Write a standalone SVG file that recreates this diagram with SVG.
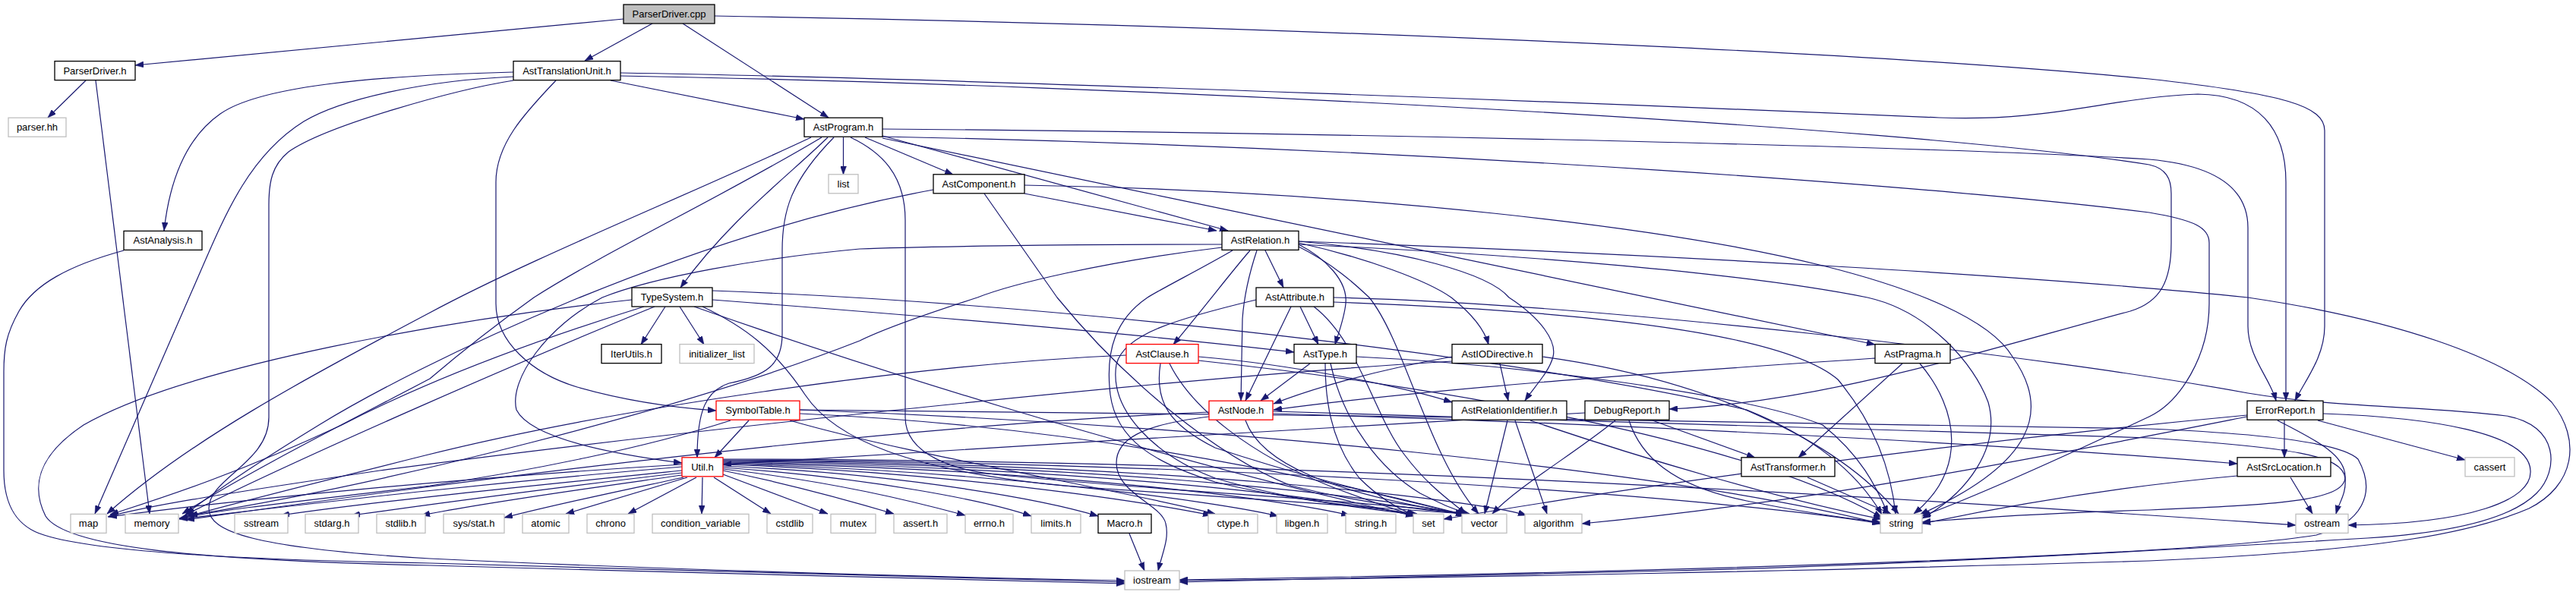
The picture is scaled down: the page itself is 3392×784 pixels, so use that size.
<svg xmlns="http://www.w3.org/2000/svg" width="3392" height="784" viewBox="0 0 3392 784">
<style>
.node rect{fill:#fff;stroke:#000;stroke-width:1.3}
.ext rect{stroke:#bfbfbf}
.red rect{stroke:#ff0000}
.cur rect{fill:#bfbfbf}
text{font-family:"Liberation Sans",Arial,Helvetica,sans-serif;font-size:13px;text-anchor:middle;fill:#000}
#edges path{fill:none;stroke:#191970;stroke-width:1.2;marker-end:url(#arr)}
</style>
<defs>
<marker id="arr" viewBox="0 0 11 8" refX="11" refY="4" markerWidth="11" markerHeight="8" orient="auto" markerUnits="userSpaceOnUse">
<path d="M0,0 L11,4 L0,8 z" fill="#191970" stroke="#191970" stroke-width="0.5"/>
</marker>
</defs>
<rect width="3392" height="784" fill="#fff"/>
<g id="edges">
<path d="M821,25 L178,86"/>
<path d="M859,31 L770,80"/>
<path d="M899,31 L1091,155"/>
<path d="M941,21 C1500,30 2400,62 2830,104 C3010,124 3061,140 3061,172 L3061,430 C3061,470 3035,502 3022,528"/>
<path d="M113,106 L63,155"/>
<path d="M126,106 L197,677"/>
<path d="M676,95 C480,100 340,115 290,150 C240,185 222,250 216,304"/>
<path d="M676,101 C560,106 450,130 400,160 C320,210 290,300 249,392 L125,677"/>
<path d="M676,106 C600,118 430,165 380,200 C358,218 354,240 354,270 L354,550 C354,610 275,630 275,670 C275,700 330,722 566,736 C900,752 1300,762 1481,765"/>
<path d="M163,330 C90,350 45,375 25,410 C8,440 5,460 5,490 L5,620 C5,670 25,695 58,705 C130,728 330,738 566,742 C900,752 1300,762 1481,767"/>
<path d="M832,395 C600,420 250,480 110,560 C50,600 40,640 60,680 C85,720 250,738 566,745 C900,755 1300,763 1481,769"/>
<path d="M732,106 C690,150 653,190 653,240 L653,400 C653,450 700,492 760,510 C830,530 900,538 943,541"/>
<path d="M804,106 L1059,157"/>
<path d="M817,96 C1300,104 2200,140 2553,155 C2700,161 2780,128 2894,124 C2975,125 3010,170 3010,240 L3010,528"/>
<path d="M817,100 C1500,112 2500,165 2830,217 C2852,222 2859,235 2859,255 L2859,320 C2859,370 2845,398 2805,410 C2600,465 2400,530 2198,539"/>
<path d="M1110.5,181 L1110.5,230"/>
<path d="M1139,181 L1255,230"/>
<path d="M1162,179 L1617,304"/>
<path d="M1162,182 L2469,454"/>
<path d="M1162,170 C1800,175 2600,195 2830,210 C2920,218 2960,250 2960,300 L2960,430 C2960,470 2990,500 2997,528"/>
<path d="M1162,180 C1900,195 2600,250 2830,280 C2890,290 2909,300 2909,320 L2909,400 C2909,470 2870,530 2830,549 C2700,610 2600,655 2531,680"/>
<path d="M1068,181 C900,260 700,340 566,412 C400,500 250,580 141,677"/>
<path d="M1082,181 C950,260 800,330 703,392 C650,430 600,470 566,499 C450,560 330,620 240,677"/>
<path d="M1090,181 C1040,230 960,290 896,379"/>
<path d="M1098,181 C1040,240 1030,280 1030,330 L1030,440 C1030,480 1010,495 960,505 C930,515 918,540 918,603"/>
<path d="M1120,181 C1160,200 1192,230 1192,290 L1192,550 C1192,600 1260,620 1310,625 C1500,645 1800,660 1935,677"/>
<path d="M1349,255 L1602,304"/>
<path d="M1229,250 C900,310 550,480 420,560 C330,615 280,650 245,677"/>
<path d="M1349,244 C1800,252 2200,300 2400,350 C2520,380 2620,420 2650,470 C2700,540 2680,610 2528,678"/>
<path d="M1296,255 L1392,392 C1480,500 1600,600 1700,640 C1800,665 1880,672 1930,677"/>
<path d="M1666,330 L1690,379"/>
<path d="M1646,330 C1620,360 1590,400 1545,454"/>
<path d="M1655,330 C1645,360 1638,392 1636,420 L1634,528"/>
<path d="M1710,322 C1745,340 1775,370 1772,400 C1770,420 1762,440 1758,454"/>
<path d="M1710,320 C1800,340 1880,370 1911,392 C1940,415 1955,435 1960,454"/>
<path d="M1710,318 C1850,330 1960,360 1987,392 C2030,420 2050,450 2045,470 C2040,490 2020,510 2008,528"/>
<path d="M1710,325 C1760,350 1790,380 1803,392 C1850,450 1880,600 1947,677"/>
<path d="M1623,330 C1580,355 1530,380 1511,392 C1470,420 1455,460 1462,520 C1470,580 1520,610 1600,635 C1700,660 1800,668 1866,677"/>
<path d="M1710,322 C2000,335 2300,360 2459,392 C2540,410 2600,480 2618,530 C2635,590 2590,650 2531,683"/>
<path d="M1710,318 C2200,335 2700,365 2960,392 C3150,420 3300,470 3360,530 C3400,580 3390,640 3330,670 C3260,700 3150,725 2830,739 C2400,752 1900,762 1553,765"/>
<path d="M1609,322 C1400,322 1200,325 1132,328 C1000,340 860,365 793,392 C720,430 670,500 680,540 C700,580 820,600 898,610"/>
<path d="M1609,326 C1450,345 1330,375 1287,392 C1200,420 1150,440 1132,449 C900,540 500,640 249,679"/>
<path d="M1700,404 L1640,528"/>
<path d="M1712,404 L1736,454"/>
<path d="M1654,395 C1550,420 1480,440 1470,480 C1460,540 1520,600 1600,630 C1700,660 1800,670 1864,678"/>
<path d="M1730,404 C1790,450 1810,550 1850,600 C1880,640 1910,660 1930,677"/>
<path d="M1756,398 C2100,410 2350,440 2420,500 C2470,560 2490,620 2496,677"/>
<path d="M1756,392 C2100,400 2700,470 2960,518 C3080,538 3200,535 3300,548 C3370,560 3370,620 3340,650 C3300,690 3200,705 3100,710 C2900,722 2500,745 2200,752 C1900,760 1700,763 1553,767"/>
<path d="M1725,479 L1660,528"/>
<path d="M1745,479 C1745,520 1750,580 1790,630 C1820,660 1845,672 1863,679"/>
<path d="M1752,479 C1770,560 1820,620 1870,650 C1900,665 1915,672 1935,677"/>
<path d="M1786,470 C2000,480 2300,520 2400,560 C2450,600 2470,640 2486,677"/>
<path d="M938,395 C1200,415 1500,440 1704,464"/>
<path d="M876,404 L844,454"/>
<path d="M895,404 L927,454"/>
<path d="M862,404 C700,470 400,600 243,679"/>
<path d="M848,404 C700,450 566,500 450,560 C300,630 200,660 145,678"/>
<path d="M914,404 C1100,470 1500,600 1862,680"/>
<path d="M925,404 C980,430 1020,460 1060,520 C1100,580 1200,620 1400,640 C1600,655 1800,668 1928,677"/>
<path d="M938,383 C1400,400 2000,470 2300,540 C2400,580 2450,630 2478,678"/>
<path d="M1912,470 C1800,490 1720,515 1677,532"/>
<path d="M2469,472 C2200,490 1900,510 1677,540"/>
<path d="M1975,479 L1986,528"/>
<path d="M1912,476 C1500,500 800,580 500,620 C300,650 200,665 142,681"/>
<path d="M2031,470 C2250,500 2420,580 2500,677"/>
<path d="M1578,470 C1700,480 1850,510 1912,530"/>
<path d="M1483,468 C1200,480 800,540 560,600 C400,640 300,665 245,681"/>
<path d="M1528,479 C1520,530 1540,560 1600,590 C1750,640 1880,665 1928,679"/>
<path d="M1540,479 C1570,540 1650,600 1750,640 C1800,660 1840,672 1864,680"/>
<path d="M1578,475 C1900,510 2300,580 2478,682"/>
<path d="M1985,554 L1955,677"/>
<path d="M1995,554 L2037,677"/>
<path d="M2015,554 C2150,600 2350,660 2478,684"/>
<path d="M2176,554 L2311,603"/>
<path d="M2127,554 C2070,600 2000,640 1965,677"/>
<path d="M2145,554 C2160,600 2200,640 2300,660 C2400,680 2450,685 2476,688"/>
<path d="M2087,544 C1800,560 1300,590 952,612"/>
<path d="M2505,479 L2368,603"/>
<path d="M2528,479 C2580,540 2590,620 2520,677"/>
<path d="M2380,629 L2490,677"/>
<path d="M3008,554 L3008,603"/>
<path d="M3052,554 L3246,606"/>
<path d="M3059,545 C3200,550 3330,570 3332,620 C3335,660 3250,690 3092,692"/>
<path d="M2999,554 C3050,580 3090,600 3088,630 C3085,660 3000,665 2830,672 C2700,676 2600,682 2531,688"/>
<path d="M1676,542 C2200,555 2700,570 2830,577 C3020,590 3085,600 3088,630 C3090,650 3080,662 3076,677"/>
<path d="M3016,629 L3045,677"/>
<path d="M2946,627 C2800,640 2650,665 2531,690"/>
<path d="M2959,549 C2700,600 2400,660 2083,690"/>
<path d="M2959,547 C2500,590 2100,650 1901,684"/>
<path d="M1053,540 C1600,545 2400,555 2830,565 C2950,570 3080,580 3105,605 C3130,650 3110,690 3050,705 C2900,730 2300,752 1553,764"/>
<path d="M986,554 L941,603"/>
<path d="M962,554 C850,590 700,620 566,640 C400,660 300,670 236,683"/>
<path d="M1053,545 C1400,560 1700,620 1928,678"/>
<path d="M1053,540 C1600,560 2200,620 2476,690"/>
<path d="M1040,554 C1200,600 1450,640 1600,677"/>
<path d="M1676,545 C2200,560 2700,590 2946,611"/>
<path d="M1592,543 C1200,560 700,620 245,685"/>
<path d="M1640,554 C1660,610 1750,650 1932,678"/>
<path d="M1592,549 C1500,560 1470,580 1470,610 C1470,650 1530,665 1535,690 C1540,710 1530,730 1525,752"/>
<path d="M1487,703 L1507,752"/>
<path d="M898,612 C600,630 300,660 143,681"/>
<path d="M898,615 C600,640 400,665 236,684"/>
<path d="M898,620 C700,640 500,660 370,679"/>
<path d="M898,623 C750,640 600,660 463,679"/>
<path d="M898,626 C800,640 650,660 555,679"/>
<path d="M900,629 C850,640 750,660 664,682"/>
<path d="M905,629 L745,677"/>
<path d="M917,629 L827,677"/>
<path d="M925,629 L924,677"/>
<path d="M940,629 L1015,677"/>
<path d="M952,625 L1090,677"/>
<path d="M952,620 C1050,640 1120,660 1177,677"/>
<path d="M952,618 C1100,635 1200,660 1271,679"/>
<path d="M952,616 C1150,630 1300,660 1358,680"/>
<path d="M952,614 C1200,625 1380,660 1446,680"/>
<path d="M952,612 C1250,622 1500,660 1595,679"/>
<path d="M952,611 C1300,620 1600,660 1683,680"/>
<path d="M952,610 C1400,618 1700,660 1777,679"/>
<path d="M952,609 C1450,615 1780,660 1863,679"/>
<path d="M952,608 C1500,612 1850,660 1930,679"/>
<path d="M952,607 C1550,610 1950,660 2010,679"/>
<path d="M952,606 C1700,610 2300,660 2476,690"/>
<path d="M952,605 C1800,605 2700,670 3023,692"/>
</g>
<g id="n_ParserDriver_cpp" class="node cur"><rect x="821" y="6" width="120" height="25"/><text x="881" y="23">ParserDriver.cpp</text></g>
<g id="n_ParserDriver_h" class="node"><rect x="72" y="80.6" width="106" height="25"/><text x="125" y="97.6">ParserDriver.h</text></g>
<g id="n_AstTranslationUnit_h" class="node"><rect x="676" y="80.6" width="141" height="25"/><text x="746.5" y="97.6">AstTranslationUnit.h</text></g>
<g id="n_parser_hh" class="node ext"><rect x="11" y="155.2" width="76" height="25"/><text x="49" y="172.2">parser.hh</text></g>
<g id="n_AstProgram_h" class="node"><rect x="1059" y="155.2" width="103" height="25"/><text x="1110.5" y="172.2">AstProgram.h</text></g>
<g id="n_list" class="node ext"><rect x="1091" y="229.8" width="39" height="25"/><text x="1110.5" y="246.8">list</text></g>
<g id="n_AstComponent_h" class="node"><rect x="1229" y="229.8" width="120" height="25"/><text x="1289" y="246.8">AstComponent.h</text></g>
<g id="n_AstAnalysis_h" class="node"><rect x="163" y="304.4" width="103" height="25"/><text x="214.5" y="321.4">AstAnalysis.h</text></g>
<g id="n_AstRelation_h" class="node"><rect x="1609" y="304.4" width="101" height="25"/><text x="1659.5" y="321.4">AstRelation.h</text></g>
<g id="n_TypeSystem_h" class="node"><rect x="832" y="379" width="106" height="25"/><text x="885" y="396">TypeSystem.h</text></g>
<g id="n_AstAttribute_h" class="node"><rect x="1654" y="379" width="102" height="25"/><text x="1705" y="396">AstAttribute.h</text></g>
<g id="n_IterUtils_h" class="node"><rect x="792" y="453.6" width="79" height="25"/><text x="831.5" y="470.6">IterUtils.h</text></g>
<g id="n_initializer_list" class="node ext"><rect x="895" y="453.6" width="98" height="25"/><text x="944" y="470.6">initializer_list</text></g>
<g id="n_AstClause_h" class="node red"><rect x="1483" y="453.6" width="95" height="25"/><text x="1530.5" y="470.6">AstClause.h</text></g>
<g id="n_AstType_h" class="node"><rect x="1704" y="453.6" width="82" height="25"/><text x="1745" y="470.6">AstType.h</text></g>
<g id="n_AstIODirective_h" class="node"><rect x="1912" y="453.6" width="119" height="25"/><text x="1971.5" y="470.6">AstIODirective.h</text></g>
<g id="n_AstPragma_h" class="node"><rect x="2469" y="453.6" width="99" height="25"/><text x="2518.5" y="470.6">AstPragma.h</text></g>
<g id="n_SymbolTable_h" class="node red"><rect x="943" y="528.2" width="110" height="25"/><text x="998" y="545.2">SymbolTable.h</text></g>
<g id="n_AstNode_h" class="node red"><rect x="1592" y="528.2" width="84" height="25"/><text x="1634" y="545.2">AstNode.h</text></g>
<g id="n_AstRelationIdentifier_h" class="node"><rect x="1912" y="528.2" width="151" height="25"/><text x="1987.5" y="545.2">AstRelationIdentifier.h</text></g>
<g id="n_DebugReport_h" class="node"><rect x="2087" y="528.2" width="111" height="25"/><text x="2142.5" y="545.2">DebugReport.h</text></g>
<g id="n_ErrorReport_h" class="node"><rect x="2959" y="528.2" width="100" height="25"/><text x="3009" y="545.2">ErrorReport.h</text></g>
<g id="n_Util_h" class="node red"><rect x="898" y="602.8" width="54" height="25"/><text x="925" y="619.8">Util.h</text></g>
<g id="n_AstTransformer_h" class="node"><rect x="2293" y="602.8" width="123" height="25"/><text x="2354.5" y="619.8">AstTransformer.h</text></g>
<g id="n_AstSrcLocation_h" class="node"><rect x="2946" y="602.8" width="123" height="25"/><text x="3007.5" y="619.8">AstSrcLocation.h</text></g>
<g id="n_cassert" class="node ext"><rect x="3246" y="602.8" width="65" height="25"/><text x="3278.5" y="619.8">cassert</text></g>
<g id="n_map" class="node ext"><rect x="93" y="677.4" width="47" height="25"/><text x="116.5" y="694.4">map</text></g>
<g id="n_memory" class="node ext"><rect x="165" y="677.4" width="70" height="25"/><text x="200" y="694.4">memory</text></g>
<g id="n_sstream" class="node ext"><rect x="309" y="677.4" width="70" height="25"/><text x="344" y="694.4">sstream</text></g>
<g id="n_stdarg_h" class="node ext"><rect x="402" y="677.4" width="70" height="25"/><text x="437" y="694.4">stdarg.h</text></g>
<g id="n_stdlib_h" class="node ext"><rect x="496" y="677.4" width="64" height="25"/><text x="528" y="694.4">stdlib.h</text></g>
<g id="n_sys_stat_h" class="node ext"><rect x="584" y="677.4" width="80" height="25"/><text x="624" y="694.4">sys/stat.h</text></g>
<g id="n_atomic" class="node ext"><rect x="688" y="677.4" width="61" height="25"/><text x="718.5" y="694.4">atomic</text></g>
<g id="n_chrono" class="node ext"><rect x="773" y="677.4" width="62" height="25"/><text x="804" y="694.4">chrono</text></g>
<g id="n_condition_variable" class="node ext"><rect x="859" y="677.4" width="127" height="25"/><text x="922.5" y="694.4">condition_variable</text></g>
<g id="n_cstdlib" class="node ext"><rect x="1010" y="677.4" width="60" height="25"/><text x="1040" y="694.4">cstdlib</text></g>
<g id="n_mutex" class="node ext"><rect x="1094" y="677.4" width="59" height="25"/><text x="1123.5" y="694.4">mutex</text></g>
<g id="n_assert_h" class="node ext"><rect x="1177" y="677.4" width="70" height="25"/><text x="1212" y="694.4">assert.h</text></g>
<g id="n_errno_h" class="node ext"><rect x="1271" y="677.4" width="63" height="25"/><text x="1302.5" y="694.4">errno.h</text></g>
<g id="n_limits_h" class="node ext"><rect x="1358" y="677.4" width="65" height="25"/><text x="1390.5" y="694.4">limits.h</text></g>
<g id="n_Macro_h" class="node"><rect x="1446" y="677.4" width="70" height="25"/><text x="1481" y="694.4">Macro.h</text></g>
<g id="n_ctype_h" class="node ext"><rect x="1591" y="677.4" width="65" height="25"/><text x="1623.5" y="694.4">ctype.h</text></g>
<g id="n_libgen_h" class="node ext"><rect x="1681" y="677.4" width="67" height="25"/><text x="1714.5" y="694.4">libgen.h</text></g>
<g id="n_string_h" class="node ext"><rect x="1772" y="677.4" width="66" height="25"/><text x="1805" y="694.4">string.h</text></g>
<g id="n_set" class="node ext"><rect x="1861" y="677.4" width="40" height="25"/><text x="1881" y="694.4">set</text></g>
<g id="n_vector" class="node ext"><rect x="1925" y="677.4" width="59" height="25"/><text x="1954.5" y="694.4">vector</text></g>
<g id="n_algorithm" class="node ext"><rect x="2008" y="677.4" width="75" height="25"/><text x="2045.5" y="694.4">algorithm</text></g>
<g id="n_string" class="node ext"><rect x="2476" y="677.4" width="55" height="25"/><text x="2503.5" y="694.4">string</text></g>
<g id="n_ostream" class="node ext"><rect x="3023" y="677.4" width="69" height="25"/><text x="3057.5" y="694.4">ostream</text></g>
<g id="n_iostream" class="node ext"><rect x="1481" y="752" width="72" height="25"/><text x="1517" y="769">iostream</text></g>
</svg>
